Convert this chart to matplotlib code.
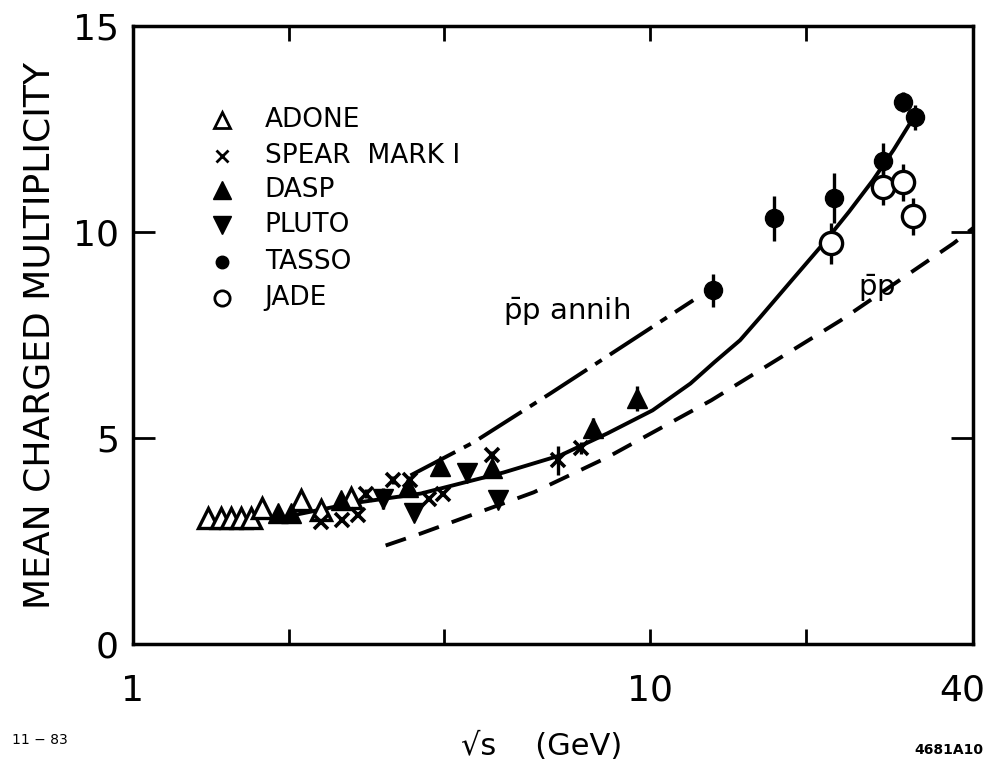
import matplotlib
matplotlib.use("Agg")
import matplotlib.pyplot as plt
from matplotlib.transforms import blended_transform_factory

# --- data (sqrt(s) in GeV, mean charged multiplicity) ---
adone_x = [1.40, 1.48, 1.55, 1.62, 1.69, 1.78, 2.11, 2.31, 2.64]
adone_y = [3.06, 3.06, 3.06, 3.06, 3.06, 3.30, 3.50, 3.25, 3.55]

spear_x = [2.31, 2.54, 2.72, 2.82, 3.18, 3.44, 3.73, 3.97, 4.95, 6.64, 7.33]
spear_y = [2.96, 3.01, 3.13, 3.66, 3.98, 3.98, 3.54, 3.66, 4.59, 4.47, 4.76]
spear_err = [0, 0, 0, 0.1, 0.1, 0.1, 0, 0, 0.1, 0.35, 0.15]

dasp_x = [1.91, 2.02, 2.52, 3.40, 3.93, 4.95, 7.73, 9.44]
dasp_y = [3.18, 3.20, 3.50, 3.81, 4.32, 4.27, 5.24, 5.97]
dasp_err = [0.1, 0.1, 0.15, 0.15, 0.15, 0.2, 0.25, 0.3]

pluto_x = [3.05, 3.49, 4.43, 5.07]
pluto_y = [3.54, 3.18, 4.17, 3.50]
pluto_err = [0.25, 0.1, 0.15, 0.15]

tasso_x = [13.2, 17.3, 22.6, 28.1, 30.8, 32.5]
tasso_y = [8.59, 10.34, 10.83, 11.72, 13.16, 12.79]
tasso_err = [0.4, 0.55, 0.6, 0.45, 0.25, 0.3]

jade_x = [22.3, 28.1, 30.7, 32.2]
jade_y = [9.73, 11.10, 11.21, 10.39]
jade_err = [0.5, 0.45, 0.45, 0.45]

# fitted curve through e+e- data
fit_x = [1.91, 2.64, 3.60, 5.20, 6.71, 8.26, 10.1, 11.95, 13.3, 14.9, 16.3, 18.8, 21.6, 24.2, 26.9, 29.5, 32.2]
fit_y = [3.06, 3.42, 3.66, 4.17, 4.59, 5.12, 5.68, 6.33, 6.85, 7.38, 7.94, 8.85, 9.73, 10.50, 11.26, 12.00, 12.77]

# pbar-p annihilation (dash-dot)
annih_x = [3.44, 4.55, 6.41, 12.1]
annih_y = [4.10, 4.90, 6.09, 8.35]

# pbar-p (dashed)
pp_x = [3.08, 3.60, 5.95, 8.26, 13.1, 23.3, 38.5, 42.0]
pp_y = [2.40, 2.69, 3.69, 4.54, 5.92, 7.86, 9.73, 10.10]

legend_names = ["ADONE", "SPEAR  MARK I", "DASP", "PLUTO", "TASSO", "JADE"]

fig = plt.figure(figsize=(9.98, 7.69), dpi=100)
ax = fig.add_axes([0.133, 0.162, 0.842, 0.804])
ax.set_xscale("log")
ax.set_xlim(1, 42)
ax.set_ylim(0, 15)

lw = 2.8
ax.plot(fit_x, fit_y, color="k", lw=lw, solid_capstyle="round", solid_joinstyle="round")
ax.plot(annih_x, annih_y, color="k", lw=lw, dashes=(13, 2.5, 2, 2.5))
ax.plot(pp_x, pp_y, color="k", lw=lw, dashes=(5.5, 3.5))

eb = dict(fmt="none", ecolor="k", elinewidth=2.4, capsize=0)
ax.errorbar(dasp_x, dasp_y, yerr=dasp_err, **eb)
ax.errorbar(pluto_x, pluto_y, yerr=pluto_err, **eb)
ax.errorbar(spear_x, spear_y, yerr=spear_err, **eb)
ax.errorbar(tasso_x, tasso_y, yerr=tasso_err, **eb)
ax.errorbar(jade_x, jade_y, yerr=jade_err, **eb)

ax.plot(adone_x, adone_y, "^", ms=14, mfc="white", mec="k", mew=2.4, ls="none")
ax.plot(dasp_x, dasp_y, "^", ms=15, color="k", ls="none")
ax.plot(pluto_x, pluto_y, "v", ms=15, color="k", ls="none")
ax.plot(spear_x, spear_y, "x", ms=10, color="k", mew=2.6, ls="none")
ax.plot(tasso_x, tasso_y, "o", ms=13, color="k", ls="none")
ax.plot(jade_x, jade_y, "o", ms=16, mfc="white", mec="k", mew=2.4, ls="none")

# legend drawn by hand
leg_y = [0.848, 0.790, 0.735, 0.678, 0.618, 0.561]
styles = [dict(marker="^", ms=12, mfc="white", mec="k", mew=2),
          dict(marker="x", ms=8, color="k", mew=2),
          dict(marker="^", ms=13, color="k"),
          dict(marker="v", ms=13, color="k"),
          dict(marker="o", ms=9, color="k"),
          dict(marker="o", ms=11, mfc="white", mec="k", mew=2)]
for name, yy, st in zip(legend_names, leg_y, styles):
    ax.plot([0.106], [yy], transform=ax.transAxes, ls="none", clip_on=False, **st)
    ax.text(0.157, yy, name, transform=ax.transAxes, fontsize=19,
            va="center", ha="left")

ax.text(5.2, 8.1, r"$\mathrm{\bar{p}p}$ annih", fontsize=21, va="center", ha="left")
ax.text(27.4, 8.64, r"$\mathrm{\bar{p}p}$", fontsize=21, va="center", ha="center")

# frame and ticks
for s in ax.spines.values():
    s.set_linewidth(2.5)
ax.set_xticks([2, 4, 10, 20])
ax.set_xticks([], minor=True)
ax.tick_params(axis="x", which="major", direction="in", length=11, width=2,
               top=True, labelbottom=False)
ax.set_yticks([0, 5, 10, 15])
ax.set_yticklabels(["0", "5", "10", "15"])
ax.tick_params(axis="y", direction="in", length=16, width=2, right=True,
               labelsize=26, pad=10)

trans = blended_transform_factory(ax.transData, ax.transAxes)
for v, lab in [(1, "1"), (10, "10"), (40, "40")]:
    ax.text(v, -0.075, lab, transform=trans, fontsize=26, ha="center", va="center")

ax.set_ylabel("MEAN CHARGED MULTIPLICITY", fontsize=26, labelpad=12)
fig.text(0.543, 0.030, "√s    (GeV)", fontsize=22, ha="center", va="center")
fig.text(0.012, 0.038, "11 − 83", fontsize=10, ha="left", va="center")
fig.text(0.985, 0.025, "4681A10", fontsize=10, ha="right", va="center",
         fontweight="bold")

fig.savefig("out.png", dpi=100)
